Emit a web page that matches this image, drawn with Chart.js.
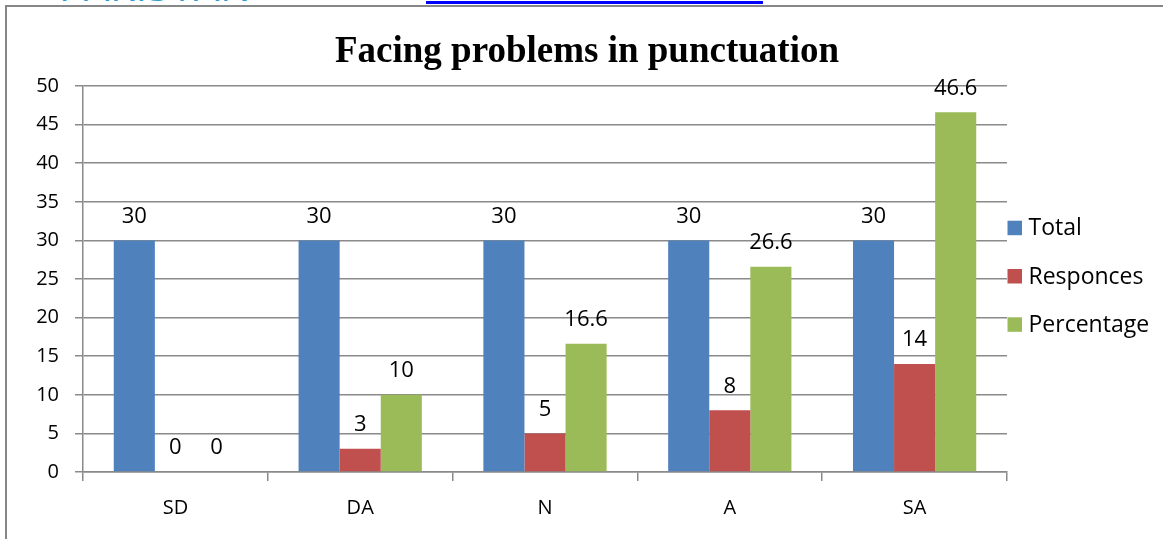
<!DOCTYPE html>
<html>
<head>
<meta charset="utf-8">
<title>Facing problems in punctuation</title>
<script src="https://cdn.jsdelivr.net/npm/chart.js@4/dist/chart.umd.min.js"></script>
<style>
    html, body { margin: 0; padding: 0; background: #fff; overflow: hidden; }
    #page { position: relative; width: 1163px; height: 539px; overflow: hidden; }
    #frame {
        position: absolute; left: 5px; top: 5px; width: 1200px; height: 600px;
        border-left: 2px solid #878787; border-top: 2px solid #878787;
    }
    #header {
        position: absolute; left: 59px; top: -34px;
        font: 40px "Open Sans", sans-serif; line-height: 40px; color: #2f9bd3;
        letter-spacing: 1px;
    }
    #link { position: absolute; left: 426px; top: 1px; width: 337px; height: 3px; background: #0000ff; }
    #chart { position: absolute; left: 0; top: 0; }
</style>
</head>
<body>
<div id="page">
    <div id="header">PAKISTAN</div>
    <div id="link"></div>
    <div id="frame"></div>
    <canvas id="chart" width="1163" height="539"></canvas>
</div>
<script>
// данные графика
const chartTitle = 'Facing problems in punctuation';
const categories = ['SD', 'DA', 'N', 'A', 'SA'];
const seriesNames = ['Total', 'Responces', 'Percentage'];
const totalValues = [30, 30, 30, 30, 30];
const responceValues = [0, 3, 5, 8, 14];
const percentageValues = [0, 10, 16.6, 26.6, 46.6];
const yMax = 50;
const yStep = 5;

const seriesColors = ['#4F81BD', '#C0504D', '#9BBB59'];
const gridColor = '#8a8a8a';
const labelFont = '22px "Open Sans", sans-serif';
const legendFont = '23px "Open Sans", sans-serif';

// подписи значений над столбцами
const valueLabels = {
    id: 'valueLabels',
    afterDatasetsDraw(chart) {
        const ctx = chart.ctx;
        ctx.save();
        ctx.font = labelFont;
        ctx.fillStyle = '#000';
        ctx.textAlign = 'center';
        ctx.textBaseline = 'middle';
        chart.data.datasets.forEach((ds, i) => {
            const meta = chart.getDatasetMeta(i);
            meta.data.forEach((bar, j) => {
                ctx.fillText(String(ds.data[j]), bar.x, bar.y - 24);
            });
        });
        ctx.restore();
    }
};

// заголовок и легенда
const titleAndLegend = {
    id: 'titleAndLegend',
    afterDraw(chart) {
        const ctx = chart.ctx;
        ctx.save();
        ctx.fillStyle = '#000';
        ctx.font = 'bold 37px "Liberation Serif", "Times New Roman", serif';
        ctx.textAlign = 'center';
        ctx.textBaseline = 'alphabetic';
        ctx.fillText(chartTitle, 587, 62);

        const x = chart.chartArea.right + 0.5;
        const startY = 227.7;
        const stepY = 48.3;
        ctx.font = legendFont;
        ctx.textAlign = 'left';
        ctx.textBaseline = 'middle';
        chart.data.datasets.forEach((ds, i) => {
            const cy = startY + i * stepY;
            ctx.fillStyle = ds.backgroundColor;
            ctx.fillRect(x, cy - 7, 14.5, 14.5);
            ctx.fillStyle = '#000';
            ctx.fillText(ds.label, x + 21, cy + 1);
        });
        ctx.restore();
    }
};

new Chart(document.getElementById('chart').getContext('2d'), {
    type: 'bar',
    data: {
        labels: categories,
        datasets: [
            { label: seriesNames[0], data: totalValues, backgroundColor: seriesColors[0] },
            { label: seriesNames[1], data: responceValues, backgroundColor: seriesColors[1] },
            { label: seriesNames[2], data: percentageValues, backgroundColor: seriesColors[2] }
        ]
    },
    options: {
        responsive: false,
        animation: false,
        devicePixelRatio: 1,
        categoryPercentage: 0.667,
        barPercentage: 1.0,
        layout: { padding: { top: 86, right: 156, bottom: 0, left: 0 } },
        plugins: {
            legend: { display: false },
            title: { display: false },
            tooltip: { enabled: false }
        },
        scales: {
            x: {
                grid: { drawOnChartArea: false, drawTicks: true, tickLength: 9, color: gridColor, lineWidth: 1.5 },
                border: { color: gridColor, width: 1.5 },
                ticks: { color: '#000', font: { family: '"Open Sans", sans-serif', size: 20 }, padding: 15 },
                afterFit(scale) { scale.height = 67; }
            },
            y: {
                min: 0,
                max: yMax,
                ticks: {
                    stepSize: yStep,
                    color: '#000',
                    font: { family: '"Open Sans", sans-serif', size: 20 },
                    padding: 16
                },
                grid: { color: gridColor, lineWidth: 1.5, tickLength: 8 },
                border: { color: gridColor, width: 1.5 },
                afterFit(scale) { scale.width = 83; }
            }
        }
    },
    plugins: [valueLabels, titleAndLegend]
});
</script>
</body>
</html>
